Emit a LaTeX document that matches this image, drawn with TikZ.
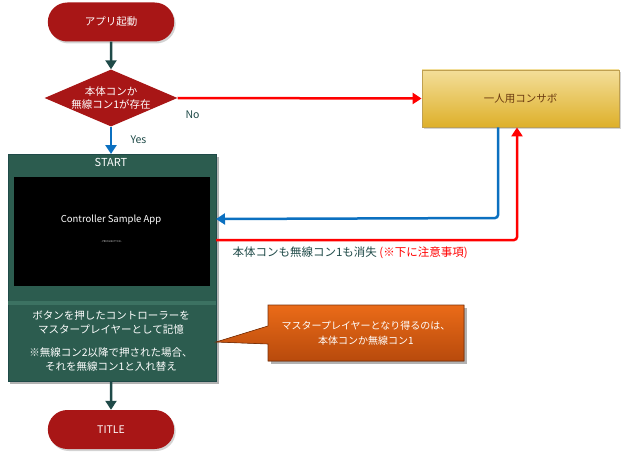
\documentclass[tikz,border=0pt]{standalone}
\usepackage{fontspec}
\setmainfont{Noto Sans CJK JP}
\usetikzlibrary{arrows.meta,shapes.geometric,shapes.misc,shadows,calc}
\definecolor{termred}{HTML}{A81616}
\definecolor{dteal}{HTML}{1F4A48}
\definecolor{boxgreen}{HTML}{2C5C4F}
\definecolor{boxgreenlt}{HTML}{3C7262}
\definecolor{blueline}{HTML}{0B70C0}
\definecolor{redline}{HTML}{FF0000}
\definecolor{yellowtop}{HTML}{F3DE99}
\definecolor{yellowbot}{HTML}{DEB02A}
\definecolor{yellowedge}{HTML}{BFA050}
\definecolor{browntext}{HTML}{6B3A10}
\definecolor{orangetop}{HTML}{EA6B18}
\definecolor{orangebot}{HTML}{B84A0C}
\definecolor{orangeedge}{HTML}{7A3008}
\tikzset{
  x=1pt, y=-1pt,
  termbox/.style={rounded rectangle, fill=termred, text=white, minimum width=133pt, minimum height=39pt, font=\fontsize{10.5}{12}\selectfont, drop shadow={opacity=0.35, shadow xshift=1.5pt, shadow yshift=-2pt}},
  decbox/.style={diamond, fill=termred, text=white, aspect=2.33, minimum width=133pt, minimum height=57pt, inner sep=0pt, font=\fontsize{10.5}{13}\selectfont, align=center},
  flowarrow/.style={line width=2.5pt, -{Triangle[length=9pt,width=11pt]}},
  lbl/.style={font=\fontsize{10.5}{12}\selectfont, text=dteal},
}
\begin{document}
\begin{tikzpicture}
\useasboundingbox (0,0) rectangle (627,460);
% start terminal
\node[termbox] (start) at (111,22) {アプリ起動};
% decision
\node[decbox] (dec) at (111,98) {本体コンか\\無線コン1が存在};
% yellow box
\node[draw=yellowedge, line width=0.8pt, top color=yellowtop, bottom color=yellowbot, minimum width=197pt, minimum height=57pt, text=browntext, font=\fontsize{10.5}{12}\selectfont, drop shadow={opacity=0.35, shadow xshift=1.5pt, shadow yshift=-2pt}] (single) at (520.5,98.5) {一人用コンサボ};
% green box
\fill[black, opacity=0.3] (10,157) rectangle (219,384);
\fill[boxgreen] (8,154) rectangle (216,381);
\draw[dteal, line width=0.6pt] (8,154) rectangle (216,381);
\fill[boxgreenlt] (8,301) rectangle (216,305);
\node[text=white, font=\fontsize{11}{12}\selectfont] (starttxt) at (111,162) {START};
\node[fill=black, minimum width=196pt, minimum height=109pt, inner sep=0pt] (screen) at (112,231) {};
\node[text=white, font=\fontsize{9.5}{11}\selectfont] (apptitle) at (111,220) {Controller Sample App};
\node[text=white!80!black, font=\fontsize{2.5}{3}\selectfont] (press) at (111.5,241.5) {- PRESS BUTTON -};
\node[text=white, font=\fontsize{10.5}{13.5}\selectfont, align=center] (desc) at (111,341) {ボタンを押したコントローラーを\\マスタープレイヤーとして記憶\\[10pt]※無線コン2以降で押された場合、\\それを無線コン1と入れ替え};
\coordinate (gbtop) at (111,154);
\coordinate (gbbot) at (111,381);
\coordinate (gbr1) at (216,219);
\coordinate (gbr2) at (216,240);
\coordinate (gbtip) at (216,342);
% title terminal
\node[termbox] (title) at (111,429.5) {TITLE};
% callout
\fill[black, opacity=0.3] (271,308) rectangle (467,364);
\fill[top color=orangetop, bottom color=orangebot] (268,305) -- (464,305) -- (464,361) -- (268,361) -- (268,344) -- (gbtip) -- (268,326) -- cycle;
\draw[orangeedge, line width=0.6pt] (268,305) -- (464,305) -- (464,361) -- (268,361) -- (268,344) -- (gbtip) -- (268,326) -- cycle;
\node[text=white, font=\fontsize{10}{15}\selectfont, align=center] (callout) at (366,333) {マスタープレイヤーとなり得るのは、\\本体コンか無線コン1};
% connectors
\draw[flowarrow, dteal] (start) -- (dec);
\draw[flowarrow, blueline] (dec.south) -- (gbtop);
\node[lbl, anchor=west] (yes) at (127,140) {Yes};
\draw[flowarrow, redline] (dec.east) -- (single.west);
\node[lbl, anchor=west] (no) at (182,115) {No};
\draw[flowarrow, blueline, rounded corners=3pt] (single.south -| 498,0) -- (498,218) -- (gbr1);
\draw[flowarrow, redline, rounded corners=3pt] (gbr2) -- (517,240) -- (single.south -| 517,0);
\node[anchor=west, font=\fontsize{11.5}{13}\selectfont, text=dteal] (lost) at (229,253) {本体コンも無線コン1も消失\ \textcolor{redline}{(※下に注意事項)}};
\draw[flowarrow, dteal] (gbbot) -- (title);
\end{tikzpicture}
\end{document}
